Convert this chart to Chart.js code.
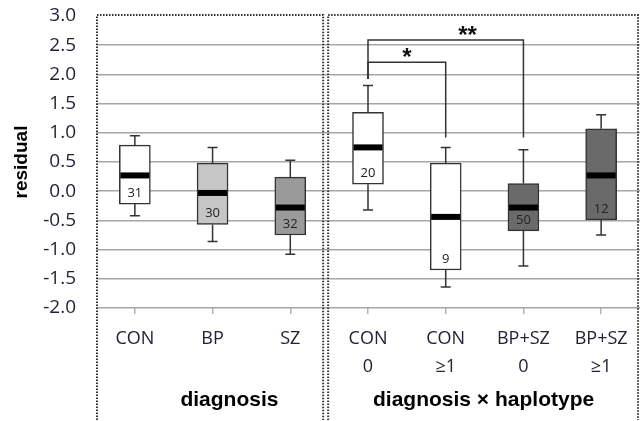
<!DOCTYPE html>
<html>
<head>
<meta charset="utf-8">
<script src="https://cdn.jsdelivr.net/npm/chart.js@4/dist/chart.umd.min.js"></script>
<style>
  html, body { margin: 0; padding: 0; background: #fff; }
</style>
</head>
<body>
<canvas id="box-chart" width="640" height="421"></canvas>
<script>
// Box plot data (residual units)
const categories = [['CON'], ['BP'], ['SZ'], ['CON', '0'], ['CON', '≥1'], ['BP+SZ', '0'], ['BP+SZ', '≥1']];
const whiskerLow = [-0.42, -0.86, -1.08, -0.32, -1.64, -1.28, -0.75];
const q1 = [-0.22, -0.57, -0.75, 0.12, -1.35, -0.68, -0.49];
const median = [0.27, -0.03, -0.28, 0.75, -0.44, -0.28, 0.27];
const q3 = [0.79, 0.48, 0.24, 1.35, 0.48, 0.13, 1.07];
const whiskerHigh = [0.95, 0.75, 0.53, 1.81, 0.75, 0.71, 1.31];
const counts = [31, 30, 32, 20, 9, 50, 12];
const boxColors = ['#ffffff', '#c6c6c6', '#9a9a9a', '#ffffff', '#ffffff', '#6a6a6a', '#6a6a6a'];

// y axis range and step
const yMin = -2.0;
const yMax = 3.0;
const yStep = 0.5;

// significance brackets: category indexes, bar level, leg ends, label
const brackets = [
    { from: 3, to: 5, level: 2.59, leftEnd: 1.92, rightEnd: 0.92, label: '**', labelAt: 0.64 },
    { from: 3, to: 4, level: 2.21, leftEnd: 1.92, rightEnd: 0.92, label: '*', labelAt: 0.5 }
];

const groupTitles = ['diagnosis', 'diagnosis × haplotype'];

const INK = '#333';

// whiskers, medians, n labels, brackets and the dotted panel frames
const boxExtras = {
    id: 'boxExtras',
    beforeDatasetsDraw(chart) {
        const { ctx, scales: { x, y } } = chart;
        ctx.save();
        ctx.strokeStyle = INK;
        ctx.lineWidth = 1.5;
        categories.forEach((c, i) => {
            const cx = x.getPixelForValue(i);
            [[q3[i], whiskerHigh[i]], [q1[i], whiskerLow[i]]].forEach(([from, to]) => {
                const yTo = y.getPixelForValue(to);
                ctx.beginPath();
                ctx.moveTo(cx, y.getPixelForValue(from));
                ctx.lineTo(cx, yTo);
                ctx.moveTo(cx - 5, yTo);
                ctx.lineTo(cx + 5, yTo);
                ctx.stroke();
            });
        });
        ctx.restore();
    },
    afterDatasetsDraw(chart) {
        const { ctx, scales: { x, y } } = chart;
        const bars = chart.getDatasetMeta(0).data;
        ctx.save();

        // medians and counts
        bars.forEach((bar, i) => {
            const left = bar.x - bar.width / 2 + 1;
            ctx.fillStyle = '#000';
            ctx.fillRect(left, y.getPixelForValue(median[i]) - 3, bar.width - 2, 6);
            ctx.fillStyle = '#222';
            ctx.font = '13px "Open Sans"';
            ctx.textAlign = 'center';
            ctx.textBaseline = 'middle';
            ctx.fillText(String(counts[i]), bar.x, y.getPixelForValue(q1[i]) - 11);
        });

        // significance brackets
        ctx.strokeStyle = INK;
        ctx.lineWidth = 1.5;
        brackets.forEach(b => {
            const x1 = x.getPixelForValue(b.from);
            const x2 = x.getPixelForValue(b.to);
            const yl = y.getPixelForValue(b.level);
            ctx.beginPath();
            ctx.moveTo(x1, y.getPixelForValue(b.leftEnd));
            ctx.lineTo(x1, yl);
            ctx.lineTo(x2, yl);
            ctx.lineTo(x2, y.getPixelForValue(b.rightEnd));
            ctx.stroke();
            ctx.fillStyle = '#111';
            ctx.font = 'bold 24px "Liberation Sans"';
            ctx.textAlign = 'center';
            ctx.textBaseline = 'middle';
            ctx.fillText(b.label, x1 + (x2 - x1) * b.labelAt, yl - 4);
        });
        ctx.restore();
    },
    afterDraw(chart) {
        const { ctx, chartArea, scales: { x } } = chart;
        const split = (x.getPixelForValue(2) + x.getPixelForValue(3)) / 2;
        const top = chartArea.top - 1;
        const bottom = 420;
        ctx.save();
        ctx.strokeStyle = INK;
        ctx.lineWidth = 2;
        ctx.setLineDash([1.5, 1.5]);
        // left panel
        ctx.beginPath();
        ctx.moveTo(chartArea.left + 1, bottom);
        ctx.lineTo(chartArea.left + 1, top);
        ctx.lineTo(split - 6, top);
        ctx.lineTo(split - 6, bottom);
        // right panel
        ctx.moveTo(split - 1, bottom);
        ctx.lineTo(split - 1, top);
        ctx.lineTo(chartArea.right - 2, top);
        ctx.lineTo(chartArea.right - 2, bottom);
        ctx.stroke();

        // group titles
        ctx.setLineDash([]);
        ctx.fillStyle = '#000';
        ctx.font = 'bold 21px "Liberation Sans"';
        ctx.textAlign = 'center';
        ctx.textBaseline = 'middle';
        ctx.fillText(groupTitles[0], (x.getPixelForValue(1) + x.getPixelForValue(2)) / 2 - 22, 400);
        ctx.fillText(groupTitles[1], (split + chartArea.right) / 2 - 1, 400);
        ctx.restore();
    }
};

const ctx = document.getElementById('box-chart').getContext('2d');
const boxChart = new Chart(ctx, {
    type: 'bar',
    data: {
        labels: categories,
        datasets: [{
            data: q1.map((lo, i) => [lo, q3[i]]),
            backgroundColor: boxColors,
            borderColor: INK,
            borderWidth: 1.5,
            borderSkipped: false,
            barThickness: 31
        }]
    },
    options: {
        responsive: false,
        animation: false,
        layout: { padding: { top: 16, right: 0, left: 0, bottom: 0 } },
        plugins: {
            legend: { display: false },
            tooltip: { enabled: false }
        },
        scales: {
            x: {
                offset: true,
                grid: { offset: false, drawOnChartArea: false, drawTicks: true, tickLength: 6, color: '#b4b4b4', lineWidth: 1.5 },
                border: { display: false },
                ticks: {
                    color: '#222233',
                    font: { family: '"Open Sans"', size: 18, lineHeight: 1.55 },
                    padding: 11,
                    maxRotation: 0,
                    autoSkip: false
                },
                afterFit(scale) { scale.height = 113; }
            },
            y: {
                min: yMin,
                max: yMax,
                border: { display: false },
                grid: {
                    drawTicks: false,
                    lineWidth: 1.5,
                    color: c => (c.tick && c.tick.value === yMax) ? 'rgba(0,0,0,0)' : '#a6a6a6'
                },
                ticks: {
                    stepSize: yStep,
                    padding: 20,
                    color: '#1f2033',
                    font: { family: '"Open Sans"', size: 19 },
                    callback: v => v.toFixed(1)
                },
                title: {
                    display: true,
                    text: 'residual',
                    color: '#000',
                    font: { family: '"Liberation Sans"', size: 19, weight: 'bold' },
                    padding: { top: 10, bottom: 0 }
                },
                afterFit(scale) {
                    scale.width = 96;
                    scale.paddingTop = 0;
                    scale.paddingBottom = 0;
                }
            }
        }
    },
    plugins: [boxExtras]
});
</script>
</body>
</html>
